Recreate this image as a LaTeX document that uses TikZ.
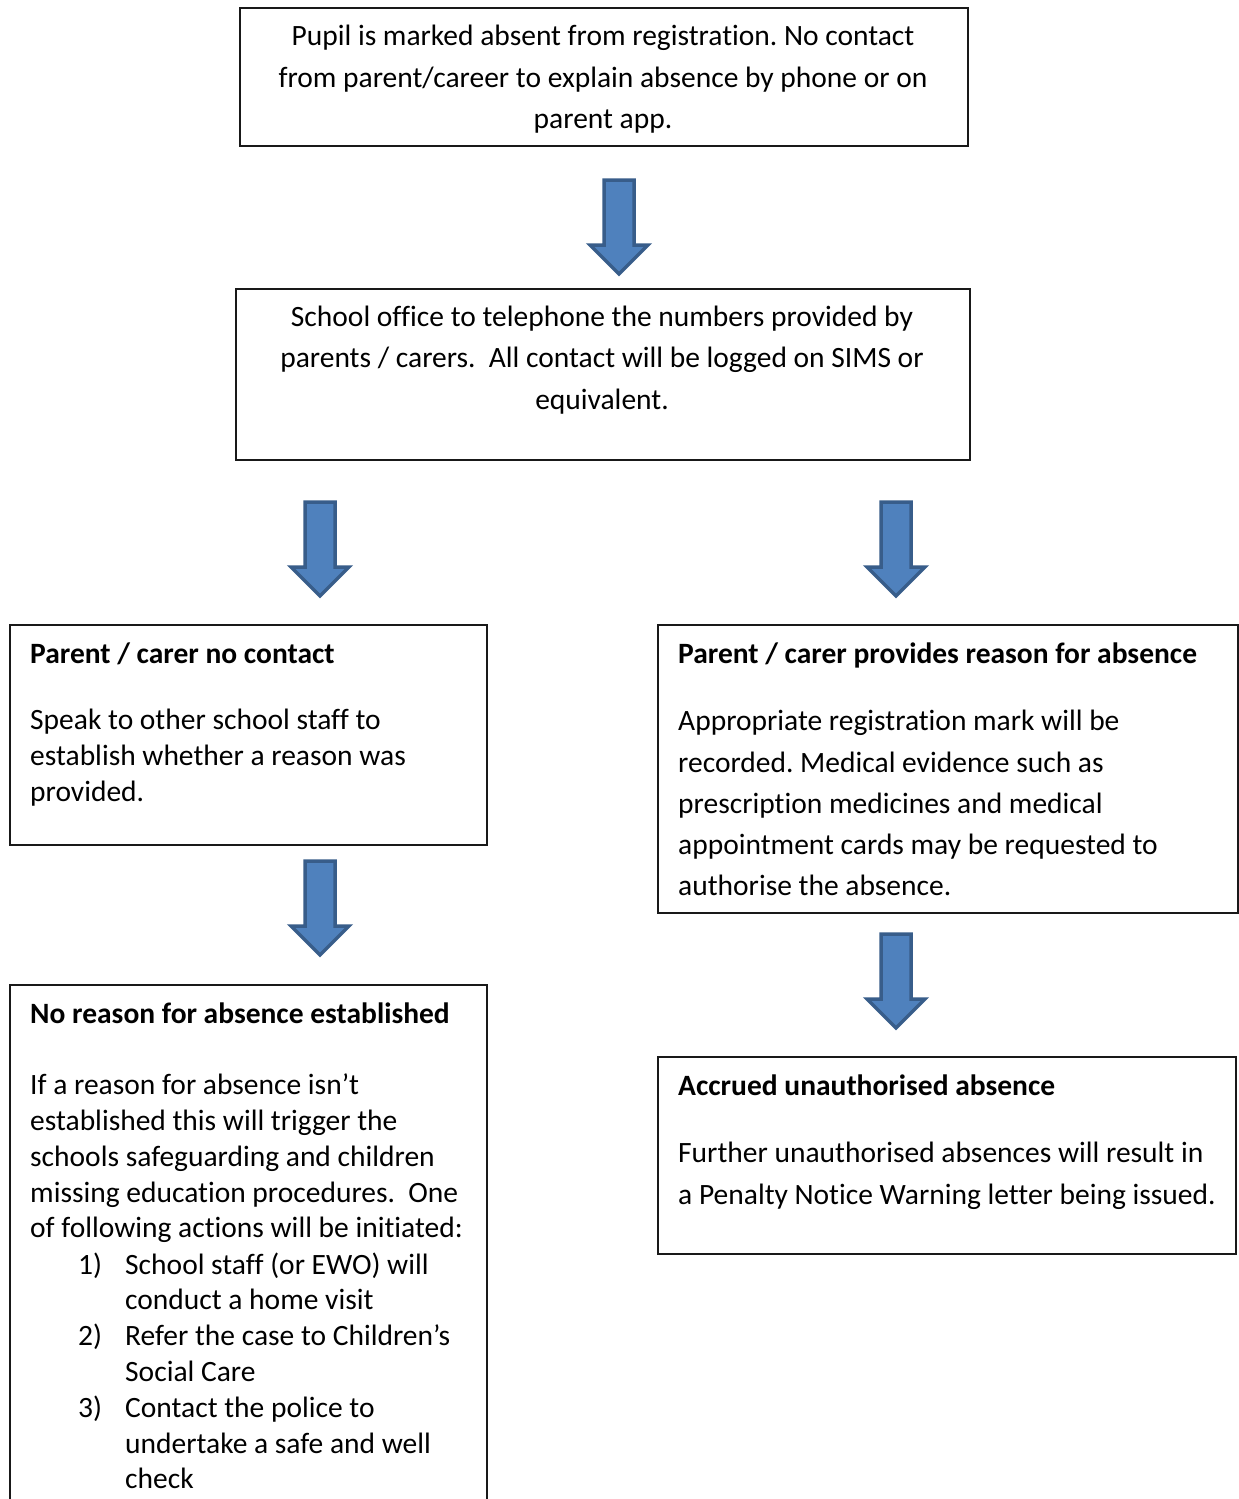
\documentclass[tikz,border=0pt]{standalone}
\usepackage{fontspec}
\setmainfont{Carlito}[Ligatures={NoCommon}]
\frenchspacing
\begin{document}
\begin{tikzpicture}[x=1pt,y=-1pt,
  box/.style={draw=black!90, line width=2pt, inner sep=0pt, anchor=north west},
  txt/.style={inner sep=0pt, font=\fontsize{29.5}{36}\selectfont},
  ltxt/.style={txt, anchor=base west},
  ctxt/.style={txt, anchor=base},
  blockarrow/.pic={
    \path[fill=arrowfill, draw=arrowline, line width=3.5pt, line join=miter]
      (-15,0) -- (15,0) -- (15,65) -- (29,65) -- (0,94) -- (-29,65) -- (-15,65) -- cycle;
  }]
\definecolor{arrowfill}{RGB}{79,129,189}
\definecolor{arrowline}{RGB}{56,93,138}
\useasboundingbox (0,0) rectangle (1239,1499);
\fill[white] (0,0) rectangle (1239,1499);

% boxes
\node[box, minimum width=728, minimum height=138] (b1) at (239,7) {};
\node[box, minimum width=734, minimum height=171] (b2) at (235,288) {};
\node[box, minimum width=477, minimum height=220] (l1) at (9,624) {};
\node[box, minimum width=580, minimum height=288] (r1) at (657,624) {};
\node[box, minimum width=477, minimum height=560] (l2) at (9,984) {};
\node[box, minimum width=578, minimum height=197] (r2) at (657,1056) {};

% arrows
\pic at (619,180) {blockarrow};
\pic at (320,502) {blockarrow};
\pic at (896,502) {blockarrow};
\pic at (320,861) {blockarrow};
\pic at (896,934) {blockarrow};

% box 1
\node[ctxt] (t1a) at (603,45) {Pupil is marked absent from registration. No contact};
\node[ctxt] (t1b) at (603,87) {from parent/career to explain absence by phone or on};
\node[ctxt] (t1c) at (603,128) {parent app.};

% box 2
\node[ctxt] (t2a) at (602,326) {School office to telephone the numbers provided by};
\node[ctxt] (t2b) at (602,367) {parents / carers.\hspace{0.45em}All contact will be logged on SIMS or};
\node[ctxt] (t2c) at (602,409) {equivalent.};

% left 1
\node[ltxt] (l1h) at (30,663) {\bfseries Parent / carer no contact};
\node[ltxt] (l1a) at (30,729) {Speak to other school staff to};
\node[ltxt] (l1b) at (30,765) {establish whether a reason was};
\node[ltxt] (l1c) at (30,801) {provided.};

% right 1
\node[ltxt] (r1h) at (678,663) {\bfseries Parent / carer provides reason for absence};
\node[ltxt] (r1a) at (678,730) {Appropriate registration mark will be};
\node[ltxt] (r1b) at (678,772) {recorded. Medical evidence such as};
\node[ltxt] (r1c) at (678,813) {prescription medicines and medical};
\node[ltxt] (r1d) at (678,854) {appointment cards may be requested to};
\node[ltxt] (r1e) at (678,895) {authorise the absence.};

% left 2
\node[ltxt] (l2h) at (30,1023) {\bfseries No reason for absence established};
\node[ltxt] (l2a) at (30,1094) {If a reason for absence isn’t};
\node[ltxt] (l2b) at (30,1130) {established this will trigger the};
\node[ltxt] (l2c) at (30,1166) {schools safeguarding and children};
\node[ltxt] (l2d) at (30,1202) {missing education procedures.\hspace{0.45em}One};
\node[ltxt] (l2e) at (30,1237) {of following actions will be initiated:};
\node[ltxt] (n1) at (78,1274) {1)};
\node[ltxt] (i1a) at (125,1274) {School staff (or EWO) will};
\node[ltxt] (i1b) at (125,1309) {conduct a home visit};
\node[ltxt] (n2) at (78,1345) {2)};
\node[ltxt] (i2a) at (125,1345) {Refer the case to Children’s};
\node[ltxt] (i2b) at (125,1381) {Social Care};
\node[ltxt] (n3) at (78,1417) {3)};
\node[ltxt] (i3a) at (125,1417) {Contact the police to};
\node[ltxt] (i3b) at (125,1453) {undertake a safe and well};
\node[ltxt] (i3c) at (125,1488) {check};

% right 2
\node[ltxt] (r2h) at (678,1095) {\bfseries Accrued unauthorised absence};
\node[ltxt] (r2a) at (678,1162) {Further unauthorised absences will result in};
\node[ltxt] (r2b) at (678,1204) {a Penalty Notice Warning letter being issued.};
\end{tikzpicture}
\end{document}
